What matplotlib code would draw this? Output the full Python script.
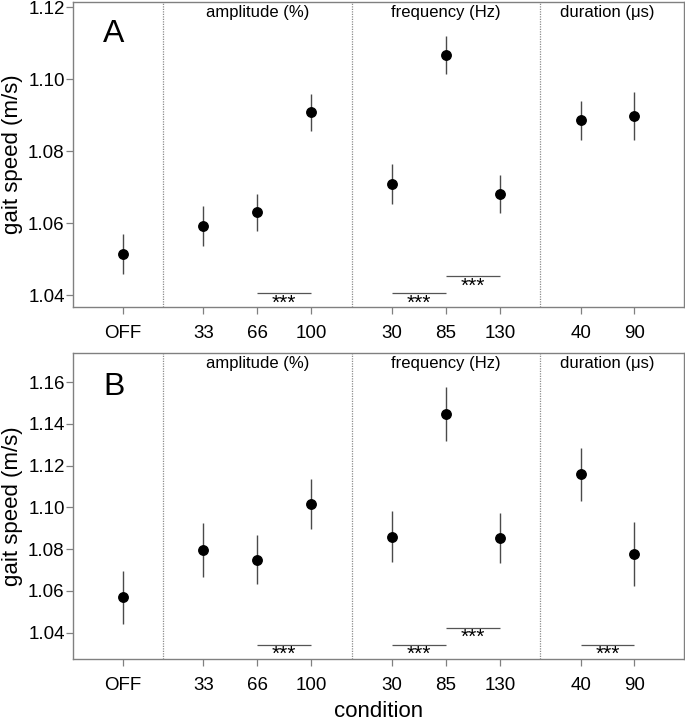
import matplotlib
matplotlib.use("Agg")
import matplotlib.pyplot as plt

plt.rcParams['font.family'] = ['Liberation Sans', 'DejaVu Sans']

# conditions and x positions (groups separated by gaps)
labels = ['OFF', '33', '66', '100', '30', '85', '130', '40', '90']
xpos = [0, 1.5, 2.5, 3.5, 5, 6, 7, 8.5, 9.5]
group_names = ['amplitude (%)', 'frequency (Hz)', 'duration (\u03bcs)']
group_centers = [2.5, 6, 9]
dividers = [0.75, 4.25, 7.75]

# panel A
a_mean = [1.0514, 1.0592, 1.0630, 1.0908, 1.0708, 1.1068, 1.0681, 1.0886, 1.0898]
a_lo = [1.0460, 1.0536, 1.0579, 1.0857, 1.0652, 1.1016, 1.0629, 1.0830, 1.0831]
a_hi = [1.0570, 1.0647, 1.0681, 1.0959, 1.0764, 1.1119, 1.0734, 1.0940, 1.0964]
a_sig = [(2.5, 3.5, 1.0405), (5, 6, 1.0405), (6, 7, 1.0453)]

# panel B
b_mean = [1.0568, 1.0795, 1.0749, 1.1014, 1.0859, 1.1447, 1.0853, 1.1159, 1.0777]
b_lo = [1.0440, 1.0667, 1.0632, 1.0896, 1.0736, 1.1318, 1.0734, 1.1032, 1.0624]
b_hi = [1.0694, 1.0923, 1.0867, 1.1136, 1.0982, 1.1576, 1.0973, 1.1286, 1.0930]
b_sig = [(2.5, 3.5, 1.0342), (5, 6, 1.0342), (6, 7, 1.0424), (8.5, 9.5, 1.0342)]

fig = plt.figure(figsize=(6.85, 7.23), dpi=100)
axA = fig.add_axes([0.1066, 0.5754, 0.892, 0.4219])
axB = fig.add_axes([0.1066, 0.0885, 0.892, 0.4237])

panels = [
    (axA, 'A', 0.895, a_mean, a_lo, a_hi, a_sig, (1.0367, 1.1215), [1.04, 1.06, 1.08, 1.10, 1.12]),
    (axB, 'B', 0.888, b_mean, b_lo, b_hi, b_sig, (1.0273, 1.1742), [1.04, 1.06, 1.08, 1.10, 1.12, 1.14, 1.16]),
]

spine_col = '#808080'
for ax, tag, tag_y, mean, lo, hi, sig, ylim, yticks in panels:
    ax.vlines(xpos, lo, hi, color='#4a4a4a', lw=1.0, zorder=2)
    ax.plot(xpos, mean, 'o', color='black', ms=6.8, zorder=3)
    for d in dividers:
        ax.axvline(d, color='#8c8c8c', lw=0.9, ls=(0, (1, 1)), zorder=1)
    for x0, x1, y in sig:
        ax.hlines(y, x0, x1, color='#555555', lw=0.9)
        ax.annotate('***', xy=((x0 + x1) / 2, y), xytext=(0, -0.5), textcoords='offset points',
                    ha='center', va='top', fontsize=15)
    for name, c in zip(group_names, group_centers):
        ax.text(c, 0.99, name, transform=ax.get_xaxis_transform(), ha='center', va='top',
                fontsize=12)
    ax.text(0.067, tag_y, tag, transform=ax.transAxes, ha='center', va='center', fontsize=23)
    ax.set_xlim(-0.92, 10.42)
    ax.set_ylim(*ylim)
    ax.set_xticks(xpos)
    ax.set_xticklabels(labels)
    ax.set_yticks(yticks)
    ax.set_yticklabels(['%.2f' % t for t in yticks])
    ax.tick_params(labelsize=13.5, length=5, color=spine_col, width=0.9)
    ax.tick_params(axis='x', pad=8)
    ax.tick_params(axis='y', pad=1)
    for s in ax.spines.values():
        s.set_color(spine_col)
        s.set_linewidth(1.0)
    ax.set_ylabel('gait speed (m/s)', fontsize=16, labelpad=4)

axB.set_xlabel('condition', fontsize=16, labelpad=5)

fig.savefig('out.png', dpi=100)
